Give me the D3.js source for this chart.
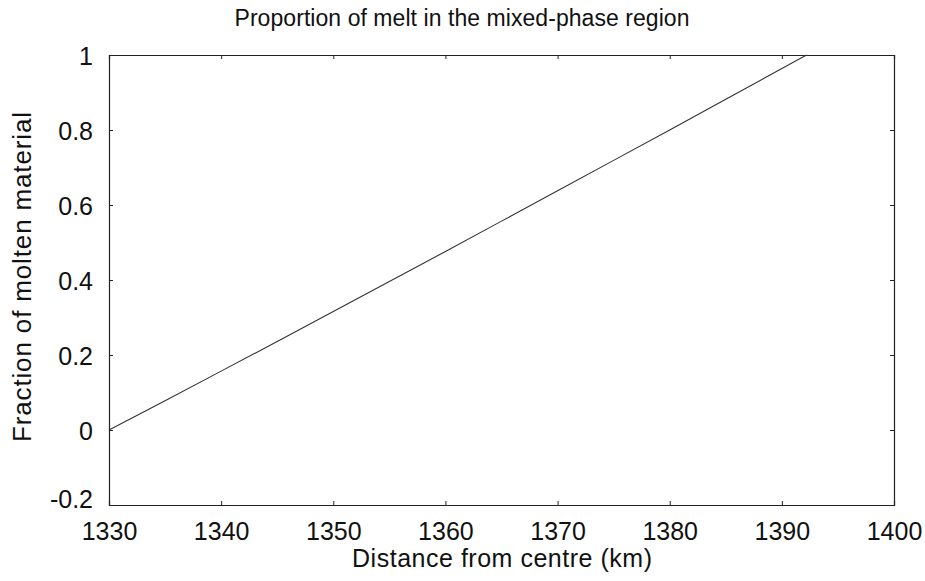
<!DOCTYPE html>
<html><head><meta charset="utf-8">
<script src="https://cdn.jsdelivr.net/npm/d3@7"></script>
<style>body{margin:0;background:#fff}svg{display:block}text{font-family:"Liberation Sans",Arial,sans-serif;fill:#111}</style>
</head><body><svg id="c" width="925" height="581"></svg>
<script>
const distance = [1330,1335,1340,1345,1350,1355,1360,1365,1370,1375,1380,1385,1390,1392.2];
const meltFraction = [0,0.078,0.157,0.236,0.316,0.396,0.476,0.557,0.638,0.719,0.800,0.882,0.964,1.0];
const xTicks = [1330,1340,1350,1360,1370,1380,1390,1400];
const yTicks = [-0.2,0,0.2,0.4,0.6,0.8,1];
const yTickLabels = ["-0.2","0","0.2","0.4","0.6","0.8","1"];
const title = "Proportion of melt in the mixed-phase region";
const xLabel = "Distance from centre (km)";
const yLabel = "Fraction of molten material";

const svg = d3.select("#c");
const m = {l:109,r:894,t:55,b:505};
const x = d3.scaleLinear().domain([1330,1400]).range([m.l,m.r]);
const y = d3.scaleLinear().domain([-0.2,1]).range([m.b,m.t]);

const g = svg.append("g");
const bx = g.append("g").attr("transform",`translate(0,${m.b})`)
  .call(d3.axisBottom(x).tickValues(xTicks).tickSize(-4).tickPadding(17).tickFormat(d3.format("d")));
const tx = g.append("g").attr("transform",`translate(0,${m.t})`)
  .call(d3.axisTop(x).tickValues(xTicks).tickSize(-4).tickFormat(""));
const ly = g.append("g").attr("transform",`translate(${m.l},0)`)
  .call(d3.axisLeft(y).tickValues(yTicks).tickSize(-4).tickPadding(16).tickFormat((d,i)=>yTickLabels[i]));
const ry = g.append("g").attr("transform",`translate(${m.r},0)`)
  .call(d3.axisRight(y).tickValues(yTicks).tickSize(-4).tickFormat(""));
[bx,tx,ly,ry].forEach(a=>{
  a.selectAll(".domain").attr("stroke","#222").attr("stroke-width",1.2);
  a.selectAll(".tick line").attr("stroke","#222");
  a.selectAll("text").style("font-size","25px").attr("fill","#111");
});
bx.selectAll(".tick text").attr("dy","0.71em");
ly.selectAll(".tick text").attr("dy","0.36em");
ly.selectAll(".tick text").filter((d,i)=>i===0).attr("dy","0.1em");

const line = d3.line().x((d,i)=>x(distance[i])).y(d=>y(d));
g.append("path").datum(meltFraction).attr("d",line)
  .attr("fill","none").attr("stroke","#333").attr("stroke-width",1.1);

svg.append("text").attr("x",462).attr("y",26).attr("text-anchor","middle")
  .style("font-size","23px").attr("textLength",455).attr("lengthAdjust","spacing").text(title);
svg.append("text").attr("x",502).attr("y",567).attr("text-anchor","middle")
  .style("font-size","25px").attr("textLength",300).attr("lengthAdjust","spacing").text(xLabel);
svg.append("text").attr("transform","translate(31,277) rotate(-90)").attr("text-anchor","middle")
  .style("font-size","26px").attr("textLength",330).attr("lengthAdjust","spacing").text(yLabel);
</script></body></html>
